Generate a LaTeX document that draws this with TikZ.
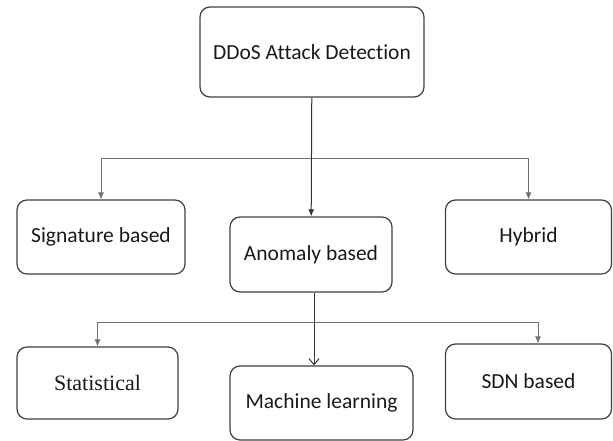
\documentclass[tikz,border=0pt]{standalone}
\usepackage{fontspec}
\setmainfont{Carlito}[Ligatures=NoCommon]
\newfontfamily\tnrfont{Liberation Serif}
\usetikzlibrary{arrows.meta}
\definecolor{boxline}{HTML}{404040}
\definecolor{conn}{HTML}{707070}
\tikzset{
  box/.style={draw=boxline, line width=1.2pt, rounded corners=10pt, rectangle, inner sep=0pt, text=black!90, font=\fontsize{21.5}{25}\selectfont},
  branch/.style={draw=conn, line width=0.8pt, -{Latex[length=7pt,width=6pt]}},
  mainarrow/.style={draw=black!80, line width=1pt, -{Latex[length=7pt,width=6pt]}},
  openarrow/.style={draw=black!80, line width=1pt, -{Straight Barb[length=6pt,width=10pt]}},
}
\begin{document}
\begin{tikzpicture}[x=1pt,y=-1pt]
\useasboundingbox (0,0) rectangle (613,441);
\node[box, minimum width=224pt, minimum height=90pt] (top) at (312,52) {DDoS Attack Detection};
\node[box, minimum width=168pt, minimum height=74pt] (sig) at (101,237) {Signature based};
\node[box, minimum width=162pt, minimum height=75pt] (anom) at (311,254.5) {Anomaly based};
\node[box, minimum width=166pt, minimum height=74pt] (hyb) at (528.5,237) {Hybrid};
\node[box, minimum width=161pt, minimum height=72pt, font=\tnrfont\fontsize{22}{25}\selectfont] (stat) at (97.5,383) {Statistical};
\node[box, minimum width=183pt, minimum height=74pt] (ml) at (321.5,403) {Machine learning};
\node[box, minimum width=166pt, minimum height=75pt] (sdn) at (528.5,381.5) {SDN based};
\coordinate (j1) at (311,158);
\coordinate (j2) at (314,322);
\draw[branch] (j1) -| (sig.north);
\draw[branch] (j1) -| (hyb.north);
\draw[mainarrow] (top) -- (anom);
\draw[branch] (j2) -| (stat.north);
\draw[branch] (j2) -| ([xshift=9.5pt]sdn.north);
\draw[openarrow] ([xshift=3pt]anom.south) -- ([xshift=3pt]anom.south |- ml.north);
\end{tikzpicture}
\end{document}
